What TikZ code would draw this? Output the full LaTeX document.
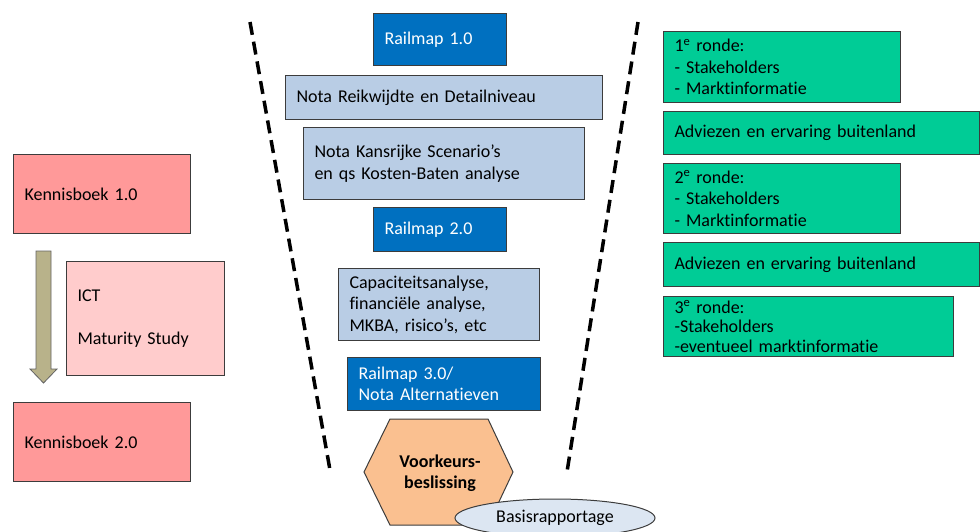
\documentclass[tikz,border=0pt]{standalone}
\usepackage{fontspec}
\setmainfont{Carlito}[Ligatures=NoCommon]
\usetikzlibrary{shapes.geometric}
\definecolor{railblue}{RGB}{0,112,192}
\definecolor{notablue}{RGB}{185,205,229}
\definecolor{kennisred}{RGB}{255,153,153}
\definecolor{ictpink}{RGB}{255,204,204}
\definecolor{rondegreen}{RGB}{0,204,150}
\definecolor{hexorange}{RGB}{250,192,144}
\definecolor{basisblue}{RGB}{220,230,242}
\definecolor{arrowolive}{RGB}{184,178,138}
\definecolor{boxline}{RGB}{60,60,60}
\newcommand{\rnd}[1]{#1\smash{\textsuperscript{e}} ronde:}
\begin{document}
\begin{tikzpicture}[x=1pt,y=-1pt,
box/.style={draw=boxline, line width=1pt, anchor=north west, inner xsep=11pt, inner ysep=0pt, align=left, font=\fontsize{18}{21.5}\selectfont},
rail/.style={box, fill=railblue, text=white},
nota/.style={box, fill=notablue},
kennis/.style={box, fill=kennisred},
ronde/.style={box, fill=rondegreen},
funnel/.style={line width=3.5pt, dash pattern=on 13pt off 7pt}]
\useasboundingbox (0,0) rectangle (980,531);
\clip (0,0) rectangle (980,531);

\coordinate (ltop) at (250,22);
\coordinate (lbot) at (330,470);
\coordinate (rtop) at (638,22);
\coordinate (rbot) at (567,472);
\draw[funnel] (ltop) -- (lbot);
\draw[funnel] (rtop) -- (rbot);

\node[kennis, text width=155pt, minimum height=79pt] (kb1) at (13,154) {Kennisboek 1.0};
\node[box, fill=ictpink, text width=136pt, minimum height=114pt] (ict) at (66,261) {ICT\\[21.5pt]Maturity Study};
\node[kennis, text width=155pt, minimum height=79pt] (kb2) at (13,402) {Kennisboek 2.0};
\filldraw[fill=arrowolive, draw=boxline!80, line width=0.8pt]
  (36,251) -- (51,251) -- (51,369) -- (57,369) -- (43.5,383) -- (30,369) -- (36,369) -- cycle;

\node[rail, text width=111pt, minimum height=52pt] (rm1) at (373,13) {Railmap 1.0};
\node[nota, text width=295pt, minimum height=44pt] (reik) at (285,75) {Nota Reikwijdte en Detailniveau};
\node[nota, text width=259pt, minimum height=72pt] (kans) at (303,127) {Nota Kansrijke Scenario’s\\en qs Kosten-Baten analyse};
\node[rail, text width=111pt, minimum height=44pt] (rm2) at (373,207) {Railmap 2.0};
\node[nota, text width=179pt, minimum height=72pt] (capa) at (338,268) {Capaciteitsanalyse,\\financiële analyse,\\MKBA, risico’s, etc};
\node[rail, text width=171pt, minimum height=53pt] (rm3) at (347,357) {Railmap 3.0/\\Nota Alternatieven};

\filldraw[fill=hexorange, draw=boxline, line width=1pt]
  (364,472) -- (390,419) -- (488,419) -- (513,472) -- (488,525) -- (390,525) -- cycle;
\node[align=center, font=\fontsize{18}{20.5}\selectfont\bfseries] (voorkeur) at (440,473) {Voorkeurs-\\beslissing};
\node[ellipse, draw=boxline, line width=1pt, fill=basisblue, minimum width=200pt, minimum height=38pt, font=\fontsize{18}{21.5}\selectfont] (basis) at (555,518) {Basisrapportage};

\node[ronde, text width=215pt, minimum height=71pt] (r1) at (663,31) {\rnd{1}\\- Stakeholders\\- Marktinformatie};
\node[ronde, text width=294pt, minimum height=43pt] (adv1) at (663,111) {Adviezen en ervaring buitenland};
\node[ronde, text width=215pt, minimum height=70pt] (r2) at (663,163) {\rnd{2}\\- Stakeholders\\- Marktinformatie};
\node[ronde, text width=294pt, minimum height=44pt] (adv2) at (663,242) {Adviezen en ervaring buitenland};
\node[ronde, text width=268pt, minimum height=60pt, font=\fontsize{18}{19.5}\selectfont] (r3) at (663,296) {\rnd{3}\\-Stakeholders\\-eventueel marktinformatie};
\end{tikzpicture}
\end{document}
